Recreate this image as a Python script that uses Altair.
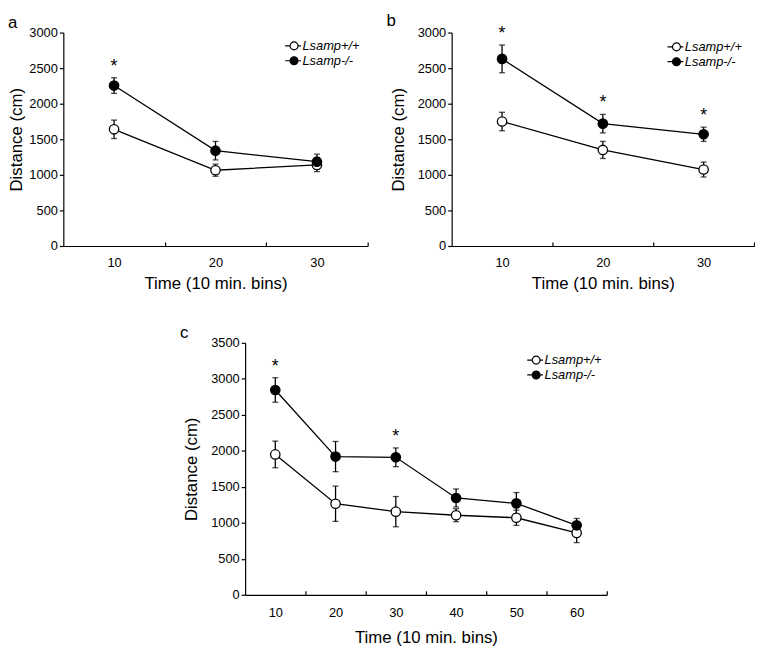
import altair as alt
import pandas as pd

FONT = "Liberation Sans"
GENO = ["Lsamp+/+", "Lsamp-/-"]

# ---- data ----
a_time = [10, 20, 30]
a_wt = [1640, 1065, 1140]
a_wt_err = [130, 85, 95]
a_ko = [2255, 1340, 1185]
a_ko_err = [110, 130, 105]
a_sig = [True, False, False]

b_time = [10, 20, 30]
b_wt = [1750, 1350, 1075]
b_wt_err = [130, 120, 105]
b_ko = [2630, 1720, 1570]
b_ko_err = [195, 130, 100]
b_sig = [True, True, True]

c_time = [10, 20, 30, 40, 50, 60]
c_wt = [1950, 1265, 1155, 1105, 1070, 860]
c_wt_err = [185, 245, 210, 90, 105, 135]
c_ko = [2845, 1920, 1910, 1345, 1270, 965]
c_ko_err = [170, 210, 130, 125, 150, 95]
c_sig = [True, False, True, False, False, False]

LEG_PATH = "M-2.25,0H-1M1,0H1.75M1,0A1,1 0 1,1 -1,0A1,1 0 1,1 1,0"


def frame(time, wt, wt_err, ko, ko_err, sig):
    rows = []
    for i, t in enumerate(time):
        rows.append(dict(time=t, geno=GENO[0], mean=wt[i], lo=wt[i] - wt_err[i],
                         hi=wt[i] + wt_err[i], sig=False))
        rows.append(dict(time=t, geno=GENO[1], mean=ko[i], lo=ko[i] - ko_err[i],
                         hi=ko[i] + ko_err[i], sig=sig[i]))
    return pd.DataFrame(rows)


def panel(df, letter, ymax, width, height, xmax, leg_x, leg_y,
          y_title_pad, x_label_pad, x_title_pad, letter_dx):
    xs = alt.Scale(domain=[5, xmax], nice=False, zero=False)
    ys = alt.Scale(domain=[0, ymax], nice=False)
    band_ticks = list(range(15, xmax + 1, 10))
    centers = list(range(10, xmax, 10))
    base = alt.Chart(df)

    y_axis = alt.Axis(values=list(range(0, ymax + 1, 500)), format="d",
                      tickSize=4, labelPadding=2, title="Distance (cm)",
                      titlePadding=y_title_pad, labelFontSize=13, titleFontSize=17)

    x_bottom = alt.X("time:Q", scale=xs,
                     axis=alt.Axis(orient="bottom", values=centers, ticks=False, tickSize=0,
                                   domain=False, labelPadding=x_label_pad,
                                   title="Time (10 min. bins)", titlePadding=x_title_pad,
                                   labelFontSize=13, titleFontSize=17))
    x_top = alt.X("time:Q", scale=xs,
                  axis=alt.Axis(orient="top", offset=-height, values=band_ticks,
                                labels=False, ticks=True, tickSize=4, domain=True,
                                title=None))
    x_none = alt.X("time:Q", scale=xs, axis=None)

    lines = base.mark_line(color="black", strokeWidth=1.3).encode(
        x=x_bottom, y=alt.Y("mean:Q", scale=ys, axis=y_axis), detail="geno:N")

    errs = base.mark_errorbar(ticks=True, size=6, thickness=1.3, color="black").encode(
        x=x_top,
        y=alt.Y("lo:Q", scale=ys, axis=y_axis),
        y2="hi:Q")

    pts = base.mark_point(shape="circle", filled=True, size=90, stroke="black",
                          strokeWidth=1.3, opacity=1).encode(
        x=x_none,
        y=alt.Y("mean:Q", scale=ys, axis=y_axis),
        fill=alt.Fill("geno:N",
                      scale=alt.Scale(domain=GENO, range=["white", "black"]),
                      legend=alt.Legend(title=None, orient="none", legendX=leg_x,
                                        legendY=leg_y, symbolType=LEG_PATH,
                                        symbolSize=64, symbolStrokeColor="black",
                                        symbolStrokeWidth=1.2, labelFont=FONT,
                                        labelFontSize=13, labelFontStyle="italic",
                                        labelColor="black", labelOffset=2,
                                        rowPadding=1, padding=0)))

    stars = base.transform_filter("datum.sig").mark_text(
        text="*", fontSize=18, font=FONT, baseline="alphabetic", dy=-6,
        color="black").encode(
        x=x_none,
        y=alt.Y("hi:Q", scale=ys, axis=y_axis))

    return alt.layer(lines, errs, pts, stars).resolve_axis(x="independent").properties(
        width=width, height=height,
        title=alt.TitleParams(letter, anchor="start", frame="bounds", fontSize=17,
                              fontWeight="normal", font=FONT, color="black",
                              dx=letter_dx, offset=-5))


pa = panel(frame(a_time, a_wt, a_wt_err, a_ko, a_ko_err, a_sig), "a", 3000, 308, 216, 35,
           227, 7, 3, 11, 6, 0)
pb = panel(frame(b_time, b_wt, b_wt_err, b_ko, b_ko_err, b_sig), "b", 3000, 306, 216, 35,
           221, 8, 10, 11, 6, -3)
pc = panel(frame(c_time, c_wt, c_wt_err, c_ko, c_ko_err, c_sig), "c", 3500, 366, 255, 65,
           288, 11, 10, 12, 10, -3)

spacer = alt.Chart(pd.DataFrame({"v": [0]})).mark_point(opacity=0).encode(
    x=alt.value(0), y=alt.value(0)).properties(width=1, height=1)

row1 = alt.hconcat(pa, pb, spacing=85, bounds="flush").resolve_scale(
    fill="independent").resolve_legend(fill="independent")
row2 = alt.hconcat(spacer, pc, spacing=183, bounds="flush").resolve_scale(
    fill="independent").resolve_legend(fill="independent")

chart = alt.vconcat(row1, row2, spacing=33).resolve_scale(
    fill="independent").resolve_legend(fill="independent").properties(
    padding=0, background="white"
).configure_view(stroke=None).configure_axis(
    grid=False, domainColor="black", tickColor="black", labelColor="black",
    titleColor="black", labelFont=FONT, titleFont=FONT, titleFontWeight="normal",
    domainWidth=1.2, tickWidth=1.2
)

chart.save("out.html", embed_options={"renderer": "svg", "actions": False})
